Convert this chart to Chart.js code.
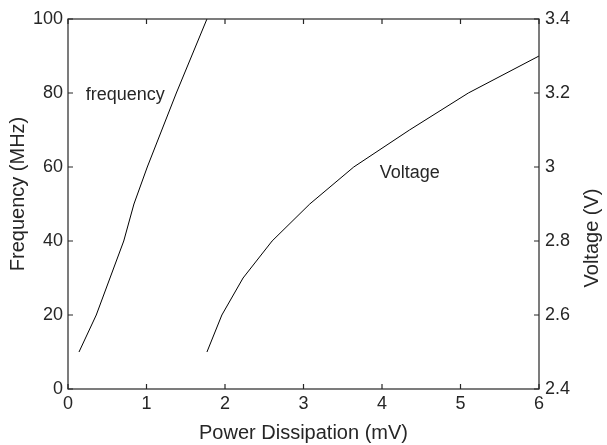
<!DOCTYPE html>
<html>
<head>
<meta charset="utf-8">
<script src="https://cdn.jsdelivr.net/npm/chart.js@4.4.0/dist/chart.umd.min.js"></script>
<style>
  html, body { margin: 0; padding: 0; background: #fff; }
  #wrap { width: 607px; height: 445px; }
</style>
</head>
<body>
<div id="wrap"><canvas id="chart" width="607" height="445"></canvas></div>
<script>
// frequency curve (left axis, MHz)
var freqPower = [0.14, 0.36, 0.71, 0.84, 1.01, 1.38, 1.77];
var freqValues = [10, 20, 40, 50, 60, 80, 100];

// voltage curve (right axis, V)
var voltPower = [1.77, 1.96, 2.23, 2.60, 3.08, 3.64, 4.35, 5.10, 6.0];
var voltValues = [2.5, 2.6, 2.7, 2.8, 2.9, 3.0, 3.1, 3.2, 3.3];

var xTicks = [0, 1, 2, 3, 4, 5, 6];
var freqTicks = [0, 20, 40, 60, 80, 100];
var voltTicks = [2.4, 2.6, 2.8, 3.0, 3.2, 3.4];

// text labels placed in data coords
var notes = [
  { text: 'frequency', x: 0.226, y: 79.5 },
  { text: 'Voltage', x: 3.97, y: 58.4 }
];

var FONT = '"Liberation Sans", Arial, Helvetica, sans-serif';
var TXT = '#262626';

function pairs(xs, ys) {
  return xs.map(function (x, i) { return { x: x, y: ys[i] }; });
}

// frame, inward tick marks, in-plot labels and the y titles
var decor = {
  id: 'decor',
  afterDraw: function (chart) {
    var ctx = chart.ctx;
    var a = chart.chartArea;
    var sx = chart.scales.x, sy = chart.scales.y, sv = chart.scales.y2;
    ctx.save();
    ctx.strokeStyle = '#262626';
    ctx.lineWidth = 1.2;
    ctx.strokeRect(a.left, a.top, a.right - a.left, a.bottom - a.top);

    ctx.beginPath();
    var tl = 5;
    xTicks.forEach(function (v) {
      var px = sx.getPixelForValue(v);
      ctx.moveTo(px, a.bottom); ctx.lineTo(px, a.bottom - tl);
      ctx.moveTo(px, a.top); ctx.lineTo(px, a.top + tl);
    });
    freqTicks.forEach(function (v) {
      var py = sy.getPixelForValue(v);
      ctx.moveTo(a.left, py); ctx.lineTo(a.left + tl, py);
    });
    voltTicks.forEach(function (v) {
      var py = sv.getPixelForValue(v);
      ctx.moveTo(a.right, py); ctx.lineTo(a.right - tl, py);
    });
    ctx.stroke();

    ctx.fillStyle = TXT;
    ctx.font = '18px ' + FONT;
    ctx.textAlign = 'left';
    ctx.textBaseline = 'middle';
    notes.forEach(function (n) {
      ctx.fillText(n.text, sx.getPixelForValue(n.x), sy.getPixelForValue(n.y));
    });

    ctx.font = '20px ' + FONT;
    ctx.textAlign = 'center';
    ctx.save();
    ctx.translate(18, 194);
    ctx.rotate(-Math.PI / 2);
    ctx.fillText('Frequency (MHz)', 0, 0);
    ctx.restore();
    ctx.save();
    ctx.translate(592, 238);
    ctx.rotate(-Math.PI / 2);
    ctx.fillText('Voltage (V)', 0, 0);
    ctx.restore();
    ctx.restore();
  }
};

new Chart(document.getElementById('chart'), {
  type: 'line',
  data: {
    datasets: [
      {
        label: 'frequency',
        data: pairs(freqPower, freqValues),
        yAxisID: 'y',
        borderColor: '#000',
        borderWidth: 1,
        pointRadius: 0,
        tension: 0,
        fill: false
      },
      {
        label: 'Voltage',
        data: pairs(voltPower, voltValues),
        yAxisID: 'y2',
        borderColor: '#000',
        borderWidth: 1,
        pointRadius: 0,
        tension: 0,
        fill: false
      }
    ]
  },
  options: {
    responsive: false,
    animation: false,
    layout: { padding: { top: 19 } },
    plugins: {
      legend: { display: false },
      tooltip: { enabled: false }
    },
    scales: {
      x: {
        type: 'linear',
        min: 0, max: 6,
        afterBuildTicks: function (s) { s.ticks = xTicks.map(function (v) { return { value: v }; }); },
        afterFit: function (s) { s.height = 56; },
        grid: { display: false, drawTicks: false },
        border: { display: false },
        ticks: { color: TXT, font: { family: FONT, size: 18 }, padding: 4, maxRotation: 0 },
        title: { display: true, text: 'Power Dissipation (mV)', color: TXT, font: { family: FONT, size: 20 }, padding: { top: 4, bottom: 0 } }
      },
      y: {
        position: 'left',
        min: 0, max: 100,
        afterBuildTicks: function (s) { s.ticks = freqTicks.map(function (v) { return { value: v }; }); },
        afterFit: function (s) { s.width = 68; },
        grid: { display: false, drawTicks: false },
        border: { display: false },
        ticks: { color: TXT, font: { family: FONT, size: 18 }, padding: 5 }
      },
      y2: {
        position: 'right',
        min: 2.4, max: 3.4,
        afterBuildTicks: function (s) { s.ticks = voltTicks.map(function (v) { return { value: v }; }); },
        afterFit: function (s) { s.width = 68; },
        grid: { display: false, drawTicks: false },
        border: { display: false },
        ticks: {
          color: TXT, font: { family: FONT, size: 18 }, padding: 6,
          callback: function (v) { return String(+Number(v).toFixed(1)); }
        }
      }
    }
  },
  plugins: [decor]
});
</script>
</body>
</html>
